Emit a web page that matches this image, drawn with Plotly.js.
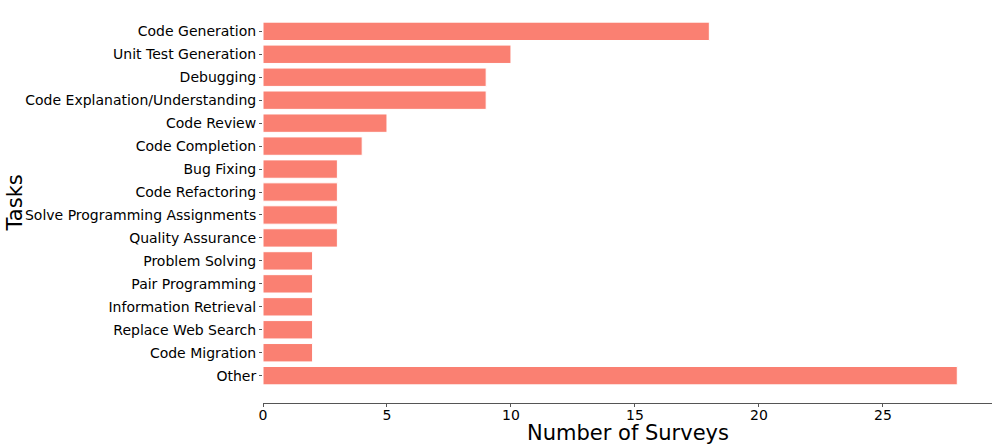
<!DOCTYPE html>
<html>
<head>
<meta charset="utf-8">
<script src="https://cdn.plot.ly/plotly-3.0.1.min.js"></script>
<style>html,body{margin:0;padding:0;background:#fff;}#chart{width:996px;height:448px;}</style>
</head>
<body>
<div id="chart"></div>
<script>
const tasks = ["Code Generation","Unit Test Generation","Debugging","Code Explanation/Understanding","Code Review","Code Completion","Bug Fixing","Code Refactoring","Solve Programming Assignments","Quality Assurance","Problem Solving","Pair Programming","Information Retrieval","Replace Web Search","Code Migration","Other"];
const surveys = [18,10,9,9,5,4,3,3,3,3,2,2,2,2,2,28];
const xTicks = [0,5,10,15,20,25];

const font = "DejaVu Sans, sans-serif";
const trace = {
  type: "bar", orientation: "h",
  x: surveys, y: tasks,
  marker: {color: "#FA8072", line: {color: "#ffffff", width: 1}},
  width: 0.8,
  hoverinfo: "x+y"
};
const layout = {
  width: 996, height: 448,
  margin: {l: 263, r: 4, t: 4, b: 45},
  paper_bgcolor: "#fff", plot_bgcolor: "#fff",
  showlegend: false,
  font: {family: font, color: "#000"},
  xaxis: {
    range: [0, 29.4], tickvals: xTicks, ticktext: xTicks.map(String),
    showgrid: false, zeroline: false, showline: true, linecolor: "#555", linewidth: 1,
    ticks: "outside", ticklen: 3, tickcolor: "#555", tickfont: {size: 14, family: font},
    ticklabelstandoff: -4,
    automargin: false
  },
  yaxis: {
    type: "category", categoryorder: "array", categoryarray: tasks,
    range: [16.19, -1.19],
    showgrid: false, zeroline: false, showline: false,
    ticks: "outside", ticklen: 3, tickcolor: "#555", tickfont: {size: 14, family: font},
    automargin: false
  },
  annotations: [
    {text: "Number of Surveys", xref: "paper", yref: "paper", x: 0.5, y: 0, yshift: -30,
     xanchor: "center", yanchor: "middle", showarrow: false, font: {size: 21, family: font, color: "#000"}},
    {text: "Tasks", xref: "paper", yref: "paper", x: 0, y: 0.5, xshift: -249,
     xanchor: "center", yanchor: "middle", textangle: -90, showarrow: false, font: {size: 21, family: font, color: "#000"}}
  ]
};
Plotly.newPlot("chart", [trace], layout, {displayModeBar: false, staticPlot: true});
</script>
</body>
</html>
